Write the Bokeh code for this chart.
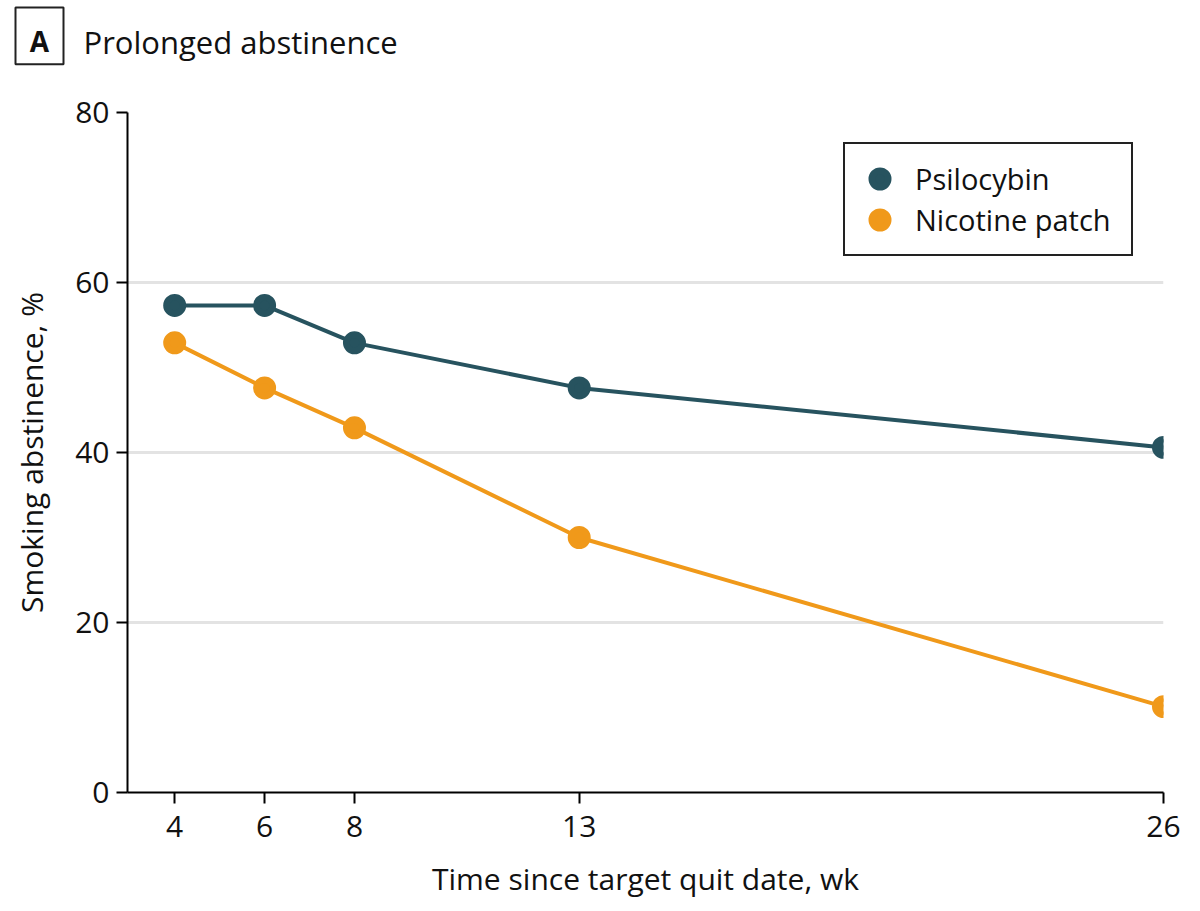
from bokeh.plotting import figure
from bokeh.models import Range1d, FixedTicker, Legend, LegendItem, Label
from bokeh.layouts import column
from bokeh.embed import file_html
from bokeh.resources import INLINE

weeks = [4, 6, 8, 13, 26]
psilocybin = [57.3, 57.3, 52.9, 47.6, 40.6]
nicotine = [52.9, 47.6, 42.9, 30.0, 10.1]
y_ticks = [0, 20, 40, 60, 80]

TEAL = "#27535f"
ORANGE = "#f0991a"
FONT = "Open Sans"
W = 1192
HT = 80
HM = 823

# ---- header strip (panel letter + title) ----
top = figure(width=W, height=HT, output_backend="svg", toolbar_location=None,
             x_axis_location=None, y_axis_location=None,
             x_range=Range1d(0, W), y_range=Range1d(0, HT),
             min_border=0, min_border_left=0, min_border_right=0,
             min_border_top=0, min_border_bottom=0)
top.title = None
if "frame_align" in top.properties():
    top.frame_align = False
top.grid.visible = False
top.outline_line_color = None
top.quad(left=15, right=63, bottom=16.2, top=73.0,
         fill_color=None, line_color="#222222", line_width=2)
top.add_layout(Label(x=39, y=39.4, text="A", text_font=FONT, text_font_size="28px",
                     text_font_style="bold", text_align="center", text_baseline="middle",
                     text_color="#111111"))
top.add_layout(Label(x=83, y=38.3, text="Prolonged abstinence", text_font=FONT,
                     text_font_size="31px", text_baseline="middle", text_color="#111111"))

# ---- main chart ----
p = figure(width=W, height=HM, output_backend="svg", toolbar_location=None,
           x_range=Range1d(2.95, 26), y_range=Range1d(0, 80),
           min_border_left=127, min_border_right=29, min_border_top=32, min_border_bottom=111)
if "frame_align" in p.properties():
    p.frame_align = False
p.outline_line_color = None
p.background_fill_color = "white"

p.xaxis.ticker = FixedTicker(ticks=weeks)
p.yaxis.ticker = FixedTicker(ticks=y_ticks)
p.xgrid.grid_line_color = None
p.ygrid.grid_line_color = "#e3e3e3"
p.ygrid.grid_line_width = 3

for ax in (p.xaxis, p.yaxis):
    ax.axis_line_color = "black"
    ax.axis_line_width = 2
    ax.major_tick_line_color = "black"
    ax.major_tick_line_width = 2
    ax.major_tick_out = 11
    ax.major_tick_in = 0
    ax.minor_tick_line_color = None
    ax.major_label_text_font = FONT
    ax.major_label_text_font_size = "30px"
    ax.major_label_text_color = "#111111"
    ax.axis_label_text_font = FONT
    ax.axis_label_text_font_size = "30px"
    ax.axis_label_text_font_style = "normal"
    ax.axis_label_text_color = "#111111"

p.xaxis.axis_label = "Time since target quit date, wk"
p.yaxis.axis_label = "Smoking abstinence, %"
p.xaxis.major_label_standoff = 12
p.yaxis.major_label_standoff = 7
p.xaxis.axis_label_standoff = 18
p.yaxis.axis_label_standoff = 20

# marker: 16.4 px core + 6.6 px stroke = 23 px dot (same size in the legend)
p.line(weeks, psilocybin, line_color=TEAL, line_width=4)
cp = p.scatter(weeks, psilocybin, size=16.4, fill_color=TEAL, line_color=TEAL, line_width=6.6)
p.line(weeks, nicotine, line_color=ORANGE, line_width=4)
cn = p.scatter(weeks, nicotine, size=16.4, fill_color=ORANGE, line_color=ORANGE, line_width=6.6)

legend = Legend(items=[LegendItem(label="Psilocybin", renderers=[cp]),
                       LegendItem(label="Nicotine patch", renderers=[cn])],
                location="top_right")
legend.label_text_font = FONT
legend.label_text_font_size = "29px"
legend.label_text_color = "#111111"
legend.border_line_color = "#222222"
legend.border_line_alpha = 1.0
legend.border_line_width = 2
legend.glyph_width = 41
legend.glyph_height = 41
legend.label_height = 41
legend.label_width = 202
legend.label_standoff = 15
legend.spacing = 0
legend.padding = 14
legend.margin = 30
p.add_layout(legend)

open("out.html", "w").write(file_html(column(top, p, spacing=0), INLINE))
